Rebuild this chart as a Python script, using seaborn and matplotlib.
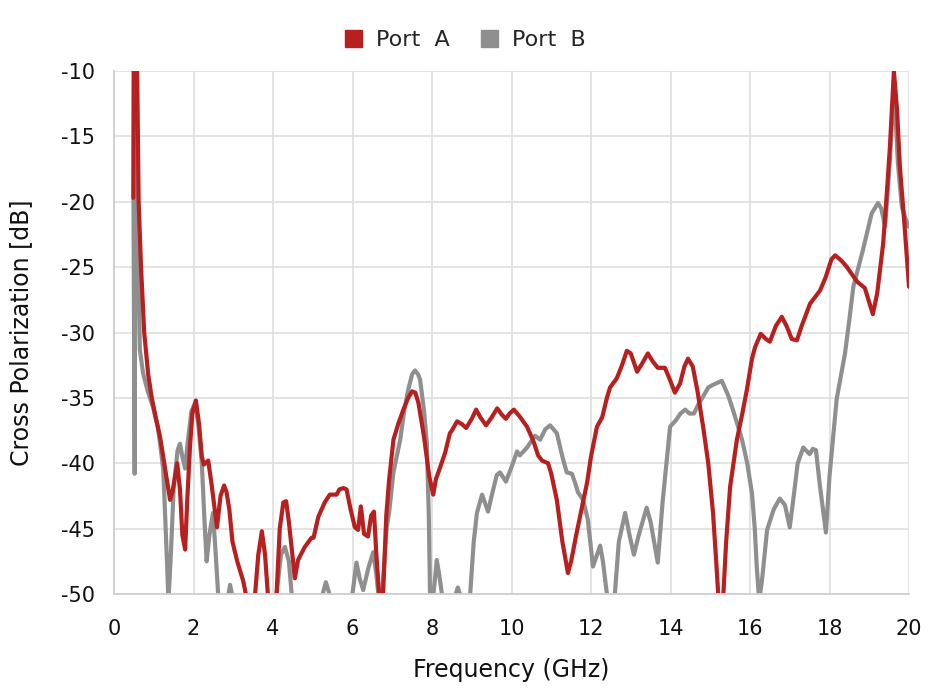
import matplotlib
matplotlib.use("Agg")
import matplotlib.pyplot as plt
from matplotlib.patches import Patch
import seaborn as sns
import pandas as pd

# valeurs (GHz, dB)
freq_a = [0.485, 0.5, 0.53, 0.59, 0.62, 0.68, 0.76, 0.86, 0.95, 1.05, 1.16, 1.28, 1.41, 1.47, 1.59, 1.66,
          1.72, 1.79, 1.84, 1.91, 1.97, 2.06, 2.14, 2.21, 2.26, 2.37, 2.45, 2.59, 2.68, 2.77, 2.83, 2.9,
          2.98, 3.1, 3.25, 3.35, 3.45, 3.55, 3.63, 3.72, 3.8, 3.87, 3.95, 4.02, 4.09, 4.17, 4.26, 4.33,
          4.4, 4.55, 4.63, 4.8, 4.97, 5.02, 5.14, 5.3, 5.43, 5.6, 5.67, 5.77, 5.85, 5.95, 6.06, 6.14,
          6.21, 6.29, 6.39, 6.47, 6.54, 6.6, 6.67, 6.72, 6.77, 6.85, 6.92, 7.03, 7.15, 7.28, 7.4, 7.5,
          7.58, 7.66, 7.8, 7.93, 8.03, 8.1, 8.16, 8.33, 8.45, 8.5, 8.63, 8.75, 8.86, 9.0, 9.11, 9.22,
          9.36, 9.5, 9.64, 9.76, 9.86, 9.95, 10.06, 10.2, 10.39, 10.55, 10.67, 10.77, 10.92, 11.0, 11.14,
          11.28, 11.42, 11.5, 11.64, 11.75, 11.9, 12.0, 12.15, 12.28, 12.4, 12.48, 12.65, 12.78, 12.9,
          13.0, 13.16, 13.3, 13.43, 13.55, 13.68, 13.86, 13.97, 14.11, 14.24, 14.35, 14.44, 14.56, 14.68,
          14.82, 14.95, 15.07, 15.15, 15.2, 15.27, 15.33, 15.4, 15.5, 15.67, 15.8, 15.92, 16.05, 16.13,
          16.27, 16.4, 16.5, 16.65, 16.8, 16.92, 17.05, 17.18, 17.3, 17.51, 17.76, 17.9, 18.05, 18.14,
          18.3, 18.44, 18.69, 18.89, 18.98, 19.09, 19.2, 19.35, 19.45, 19.52, 19.62, 19.7, 19.77, 19.88,
          20.0]
xpol_a = [-19.7, -4, 0, -12, -20, -25, -30, -33.2, -35, -36.5, -38, -40.3, -42.8, -42.2, -40.0, -42,
          -45.5, -46.6, -43, -38.8, -36.2, -35.2, -37, -39.5, -40.1, -39.8, -41.5, -44.9, -42.5, -41.7, -42.2, -43.5,
          -46, -47.5, -49, -50.5, -51.5, -50, -47, -45.2, -47, -50, -51.5, -51, -50, -45, -43, -42.9,
          -44.5, -48.8, -47.4, -46.4, -45.7, -45.7, -44.1, -43, -42.4, -42.4, -42, -41.9, -42, -43.5, -44.9, -45.1,
          -43.3, -45.4, -45.6, -44, -43.7, -47, -50, -51.5, -50, -44, -41.3, -38.2, -37, -35.9, -35, -34.5,
          -34.6, -35.4, -38, -41, -42.4, -41.2, -40.7, -39.2, -37.7, -37.5, -36.8, -37, -37.3, -36.6, -35.9, -36.5,
          -37.1, -36.5, -35.8, -36.3, -36.6, -36.2, -35.9, -36.4, -37.2, -38.3, -39.4, -39.8, -40.0, -40.8, -42.8,
          -46, -48.4, -47.5, -45.3, -43.7, -41.5, -39.5, -37.2, -36.5, -35, -34.2, -33.5, -32.5, -31.4,
          -31.6, -33.0, -32.3, -31.6, -32.2, -32.7, -32.7, -33.5, -34.6, -33.9, -32.6, -32.0, -32.6, -34.5,
          -37.2, -40, -43.8, -47.5, -50, -53, -50, -46, -41.8, -38.2, -36.3, -34.4, -32, -31.1,
          -30.1, -30.5, -30.7, -29.5, -28.8, -29.5, -30.5, -30.6, -29.5, -27.8, -26.8, -25.8, -24.4, -24.1,
          -24.5, -25.0, -26.1, -26.6, -27.5, -28.6, -27, -23.2, -19, -15.8, -10, -13, -17.3, -21.5,
          -26.5]

freq_b = [0.49, 0.52, 0.535, 0.55, 0.6, 0.65, 0.73, 0.85, 0.98, 1.1, 1.16, 1.24, 1.3, 1.37, 1.43, 1.5,
          1.6, 1.66, 1.72, 1.79, 1.85, 1.95, 2.04, 2.12, 2.21, 2.27, 2.33, 2.4, 2.49, 2.55, 2.62, 2.7,
          2.8, 2.92, 3.0, 3.1, 3.5, 4.0, 4.09, 4.2, 4.3, 4.4, 4.47, 4.6, 5.0, 5.25, 5.33, 5.42,
          5.6, 5.95, 6.02, 6.1, 6.18, 6.27, 6.4, 6.52, 6.6, 6.65, 6.72, 6.78, 6.86, 6.92, 7.03, 7.2,
          7.3, 7.4, 7.5, 7.57, 7.65, 7.7, 7.8, 7.87, 7.92, 7.95, 8.0, 8.07, 8.12, 8.18, 8.25, 8.4,
          8.6, 8.65, 8.7, 8.85, 8.96, 9.05, 9.13, 9.26, 9.41, 9.5, 9.63, 9.71, 9.86, 10.0, 10.14, 10.21,
          10.39, 10.59, 10.72, 10.85, 10.97, 11.14, 11.28, 11.39, 11.52, 11.6, 11.67, 11.8, 11.92, 12.05,
          12.15, 12.23, 12.3, 12.4, 12.5, 12.6, 12.7, 12.86, 12.97, 13.08, 13.2, 13.4, 13.5, 13.68, 13.8,
          13.99, 14.14, 14.25, 14.37, 14.48, 14.59, 14.7, 14.82, 14.95, 15.07, 15.29, 15.45, 15.57, 15.8,
          15.93, 16.05, 16.12, 16.17, 16.23, 16.3, 16.43, 16.6, 16.75, 16.88, 17.0, 17.1, 17.2, 17.34,
          17.5, 17.58, 17.66, 17.75, 17.91, 18.0, 18.18, 18.39, 18.5, 18.6, 18.84, 19.06, 19.22, 19.3,
          19.4, 19.52, 19.62, 19.72, 19.82, 19.98]
xpol_b = [-19.8, -40.8, -20, -8, -22, -31.3, -33.1, -34.5, -35.7, -37.2, -38.5, -40.5, -45, -50.5, -47, -42,
          -39, -38.5, -39.5, -40.4, -38.5, -36, -35.4, -37, -40, -44, -47.5, -45.5, -43.8, -46.5, -50, -52,
          -51.5, -49.3, -50.5, -53, -55, -52, -50, -47, -46.4, -47.5, -50, -53, -53, -50, -49.1, -50,
          -53, -51, -49.5, -47.6, -48.8, -49.7, -48, -46.8, -48.5, -50, -51, -48.5, -44.9, -43.8, -40.7, -38.2,
          -36, -34.4, -33.2, -32.9, -33.2, -33.6, -36, -38.5, -44, -50, -51, -49, -47.4, -48.5, -50, -52,
          -50, -49.5, -50, -52, -50, -46, -43.8, -42.4, -43.7, -42.5, -40.9, -40.7, -41.4, -40.3, -39.1, -39.4,
          -38.8, -37.9, -38.2, -37.4, -37.1, -37.7, -39.5, -40.7, -40.8, -41.5, -42.2, -42.8, -44.3, -47.9,
          -47, -46.3, -47.5, -50, -51.5, -50, -46, -43.8, -45.5, -47.0, -45.5, -43.4, -44.5, -47.6, -43,
          -37.2, -36.7, -36.2, -35.9, -36.2, -36.2, -35.5, -34.9, -34.2, -34.0, -33.7, -34.8, -35.9, -38.2,
          -40, -42.3, -45, -47.9, -50.5, -49, -45.1, -43.5, -42.7, -43.2, -44.9, -42.5, -40, -38.8,
          -39.3, -38.9, -39.0, -41.5, -45.3, -41, -35.1, -31.6, -29, -26.5, -23.7, -20.9, -20.1, -20.5,
          -21.9, -16.8, -11, -17, -20.4, -21.9]

ports = ["Port  A", "Port  B"]
couleurs = ["#b81f1f", "#8f8f8f"]

df = pd.concat([
    pd.DataFrame({"freq": freq_a, "xpol": xpol_a, "port": ports[0]}),
    pd.DataFrame({"freq": freq_b, "xpol": xpol_b, "port": ports[1]}),
])

sns.set_theme(style="whitegrid")
plt.rcParams["font.family"] = ["DejaVu Sans"]
plt.rcParams["axes.unicode_minus"] = False

fig = plt.figure(figsize=(9.3, 6.96), dpi=100)
ax = fig.add_axes([114 / 930, 1 - 594 / 696, 795 / 930, 523 / 696])

sns.lineplot(data=df, x="freq", y="xpol", hue="port", hue_order=ports[::-1],
             palette=dict(zip(ports, couleurs)), estimator=None, sort=False,
             linewidth=3.0, ax=ax, legend=False)
for l in ax.lines:
    l.set_solid_joinstyle("round")
    l.set_solid_capstyle("round")

ax.set_xlim(0, 20)
ax.set_ylim(-50, -10)
ax.set_xticks(range(0, 21, 2))
ax.set_yticks(range(-50, -9, 5))
ax.grid(color="#e0e0e0", linewidth=1.3)
for s in ["top", "right"]:
    ax.spines[s].set_visible(False)
for s in ["left", "bottom"]:
    ax.spines[s].set_color("#cfcfcf")
    ax.spines[s].set_linewidth(1.3)
ax.tick_params(axis="both", length=10, width=1.3, color="#e0e0e0", labelsize=15, labelcolor="#111111")
ax.tick_params(axis="x", pad=8)
ax.tick_params(axis="y", pad=4)
ax.set_xlabel("Frequency (GHz)", fontsize=17, color="#111111", labelpad=14)
ax.set_ylabel("Cross Polarization [dB]", fontsize=17, color="#111111", labelpad=20)

handles = [Patch(facecolor=c, edgecolor=c, label=p) for p, c in zip(ports, couleurs)]
fig.legend(handles=handles, loc="center", bbox_to_anchor=(0.5, 1 - 40 / 696), ncol=2,
           frameon=False, fontsize=16, handlelength=0.8, handleheight=0.8,
           handletextpad=0.6, columnspacing=1.4)

fig.savefig("out.png", dpi=100)
